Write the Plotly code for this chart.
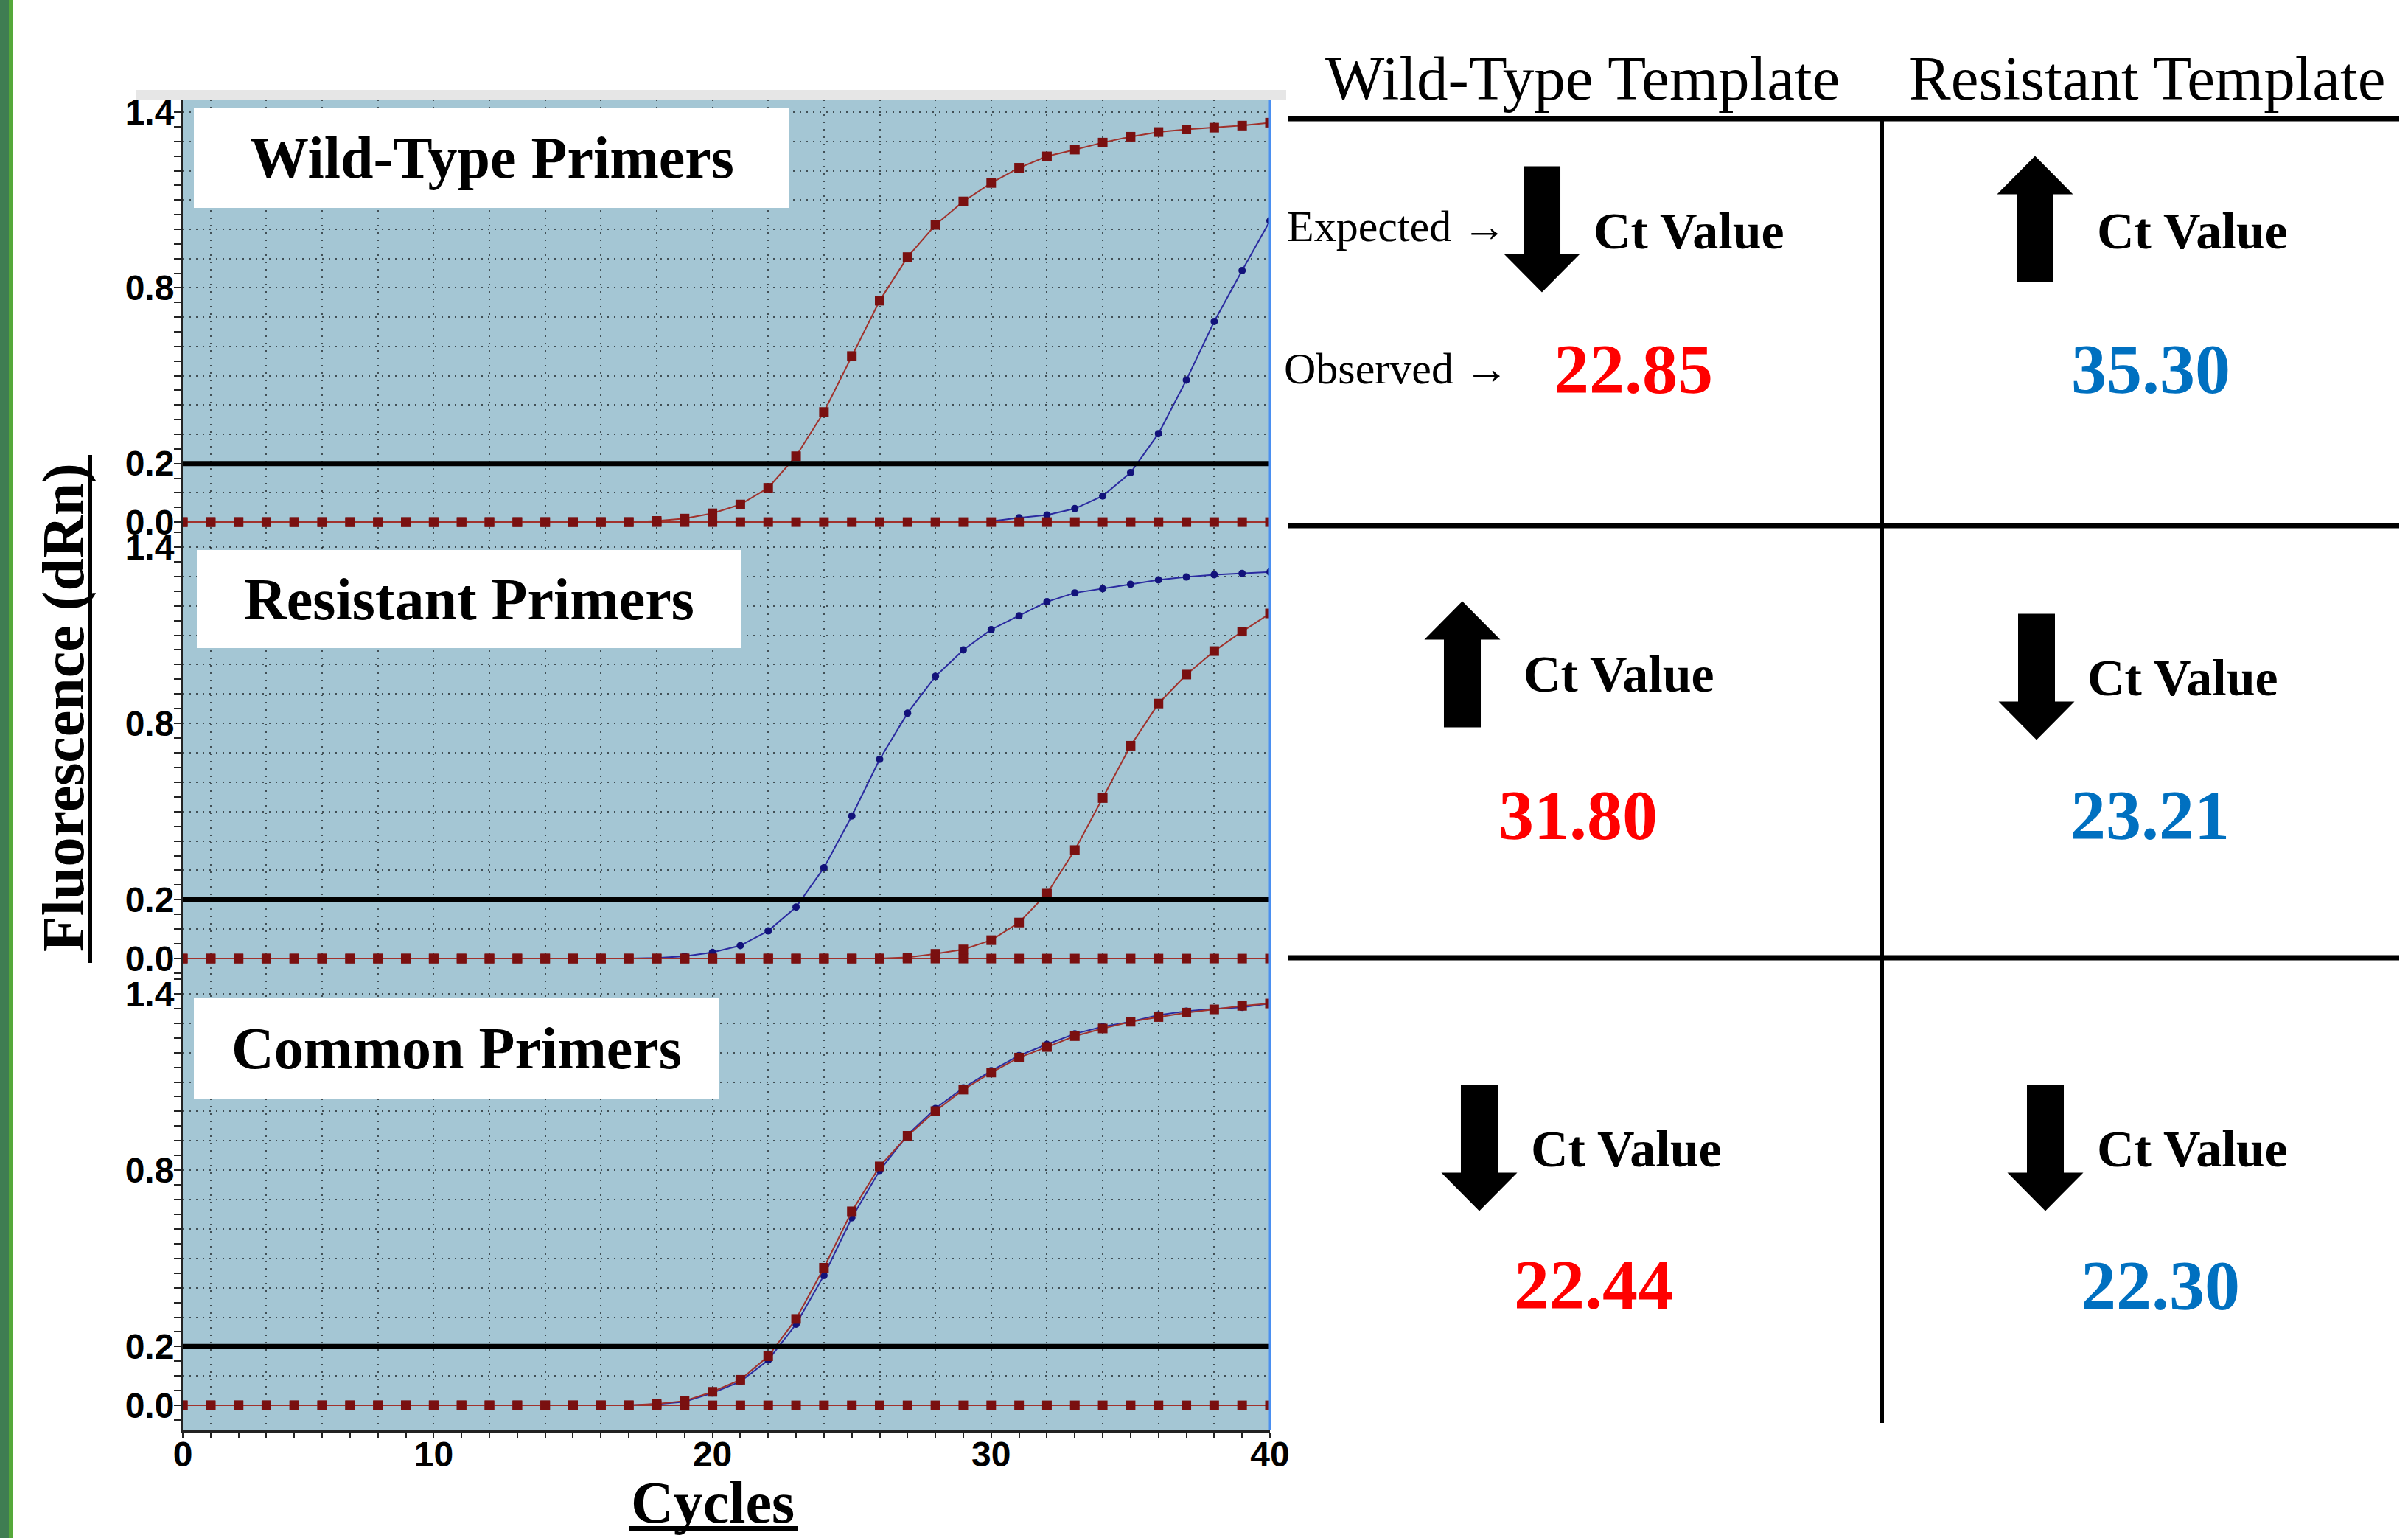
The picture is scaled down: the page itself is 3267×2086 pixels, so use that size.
import plotly.graph_objects as go

# ---------------- data ----------------
cycles = list(range(1, 41))

# Wild-Type primers panel
wt_primers_wt_template = [0, 0, 0, 0, 0, 0, 0, 0, 0, 0, 0, 0, 0, 0, 0, 0, 0,
                          0.004, 0.012, 0.030, 0.060, 0.117, 0.225, 0.376, 0.567, 0.756,
                          0.905, 1.015, 1.095, 1.158, 1.210, 1.249, 1.272, 1.296, 1.316,
                          1.332, 1.341, 1.347, 1.354, 1.364]
wt_primers_res_template = [0, 0, 0, 0, 0, 0, 0, 0, 0, 0, 0, 0, 0, 0, 0, 0, 0, 0, 0, 0,
                           0, 0, 0, 0, 0, 0, 0, 0, 0, 0.003, 0.015, 0.024, 0.046, 0.089,
                           0.169, 0.302, 0.485, 0.685, 0.859, 1.029]
# Resistant primers panel
res_primers_wt_template = [0, 0, 0, 0, 0, 0, 0, 0, 0, 0, 0, 0, 0, 0, 0, 0, 0, 0, 0, 0,
                           0, 0, 0, 0, 0, 0, 0.004, 0.016, 0.031, 0.0625, 0.1225, 0.221,
                           0.369, 0.546, 0.724, 0.8675, 0.966, 1.046, 1.1125, 1.174]
res_primers_res_template = [0, 0, 0, 0, 0, 0, 0, 0, 0, 0, 0, 0, 0, 0, 0, 0, 0,
                            0.002, 0.008, 0.021, 0.044, 0.094, 0.175, 0.309, 0.485, 0.678,
                            0.835, 0.960, 1.050, 1.119, 1.166, 1.214, 1.244, 1.258, 1.273,
                            1.288, 1.298, 1.306, 1.310, 1.315]
# Common primers panel
com_primers_wt_template = [0, 0, 0, 0, 0, 0, 0, 0, 0, 0, 0, 0, 0, 0, 0, 0, 0,
                           0.005, 0.015, 0.046, 0.087, 0.167, 0.294, 0.468, 0.660, 0.813,
                           0.917, 1.001, 1.074, 1.132, 1.183, 1.219, 1.256, 1.282, 1.305,
                           1.321, 1.336, 1.347, 1.359, 1.367]
com_primers_res_template = [0, 0, 0, 0, 0, 0, 0, 0, 0, 0, 0, 0, 0, 0, 0, 0, 0,
                            0.004, 0.012, 0.042, 0.081, 0.154, 0.276, 0.442, 0.638, 0.799,
                            0.920, 1.010, 1.080, 1.138, 1.190, 1.228, 1.264, 1.288, 1.305,
                            1.328, 1.341, 1.349, 1.354, 1.367]
# no-template control wells (flat baseline)
ntc_baseline = [0, 0, 0, 0, 0, 0, 0, 0, 0, 0, 0, 0, 0, 0, 0, 0, 0, 0, 0, 0,
                0, 0, 0, 0, 0, 0, 0, 0, 0, 0, 0, 0, 0, 0, 0, 0, 0, 0, 0, 0]

panel_titles = ["Wild-Type Primers", "Resistant Primers", "Common Primers"]
threshold = 0.2
x_tick_vals = [1, 10, 20, 30, 40]
x_tick_text = ["0", "10", "20", "30", "40"]
y_label_vals = [0.0, 0.2, 0.8, 1.4]
y_label_text = ["0.0", "0.2", "0.8", "1.4"]

template_headers = ["Wild-Type Template", "Resistant Template"]
expected_direction = [["down", "up"], ["up", "down"], ["down", "down"]]
observed_ct = [[22.85, 35.30], [31.80, 23.21], [22.44, 22.30]]
ct_colors = ["#ff0000", "#0070c0"]

# ---------------- layout helpers ----------------
W, H = 3267, 2086


def px(x):
    return x / W


def py(y):
    return 1 - y / H


SERIF = "Liberation Serif"
SANS = "Liberation Sans"
RED_M, RED_L = "#7a1010", "#a1322c"
BLUE_M, BLUE_L = "#12127a", "#2b2ba0"
GRID = "rgba(0,0,0,0.6)"

panels = [
    dict(top=135, bottom=722, yr=[-0.035, 1.443], series=(wt_primers_wt_template, wt_primers_res_template)),
    dict(top=722, bottom=1320, yr=[-0.05, 1.45], series=(res_primers_wt_template, res_primers_res_template)),
    dict(top=1320, bottom=1940, yr=[-0.085, 1.47], series=(com_primers_wt_template, com_primers_res_template)),
]
X_LEFT, X_RIGHT = 248, 1723

grid_y = [round(i * 0.1, 1) for i in range(15)]
label_y = dict(zip(y_label_vals, y_label_text))
grid_x = [1] + list(range(2, 41, 2))
label_x = dict(zip(x_tick_vals, x_tick_text))

fig = go.Figure()
shapes = []
annotations = []

for i, p in enumerate(panels):
    n = "" if i == 0 else str(i + 1)
    xa, ya = "x" + n, "y" + n
    wt, res = p["series"]
    fig.add_trace(go.Scatter(x=cycles, y=ntc_baseline, xaxis=xa, yaxis=ya, mode="lines+markers",
                             line=dict(color=BLUE_L, width=2), marker=dict(symbol="circle", size=10, color=BLUE_M),
                             showlegend=False, hoverinfo="skip"))
    fig.add_trace(go.Scatter(x=cycles, y=res, xaxis=xa, yaxis=ya, mode="lines+markers",
                             line=dict(color=BLUE_L, width=2), marker=dict(symbol="circle", size=10, color=BLUE_M),
                             showlegend=False))
    fig.add_trace(go.Scatter(x=cycles, y=ntc_baseline, xaxis=xa, yaxis=ya, mode="lines+markers",
                             line=dict(color=RED_L, width=2), marker=dict(symbol="square", size=13, color=RED_M),
                             showlegend=False, hoverinfo="skip"))
    fig.add_trace(go.Scatter(x=cycles, y=wt, xaxis=xa, yaxis=ya, mode="lines+markers",
                             line=dict(color=RED_L, width=2), marker=dict(symbol="square", size=13, color=RED_M),
                             showlegend=False))

    bottom_panel = i == len(panels) - 1
    fig.update_layout(**{
        "xaxis" + n: dict(
            domain=[px(X_LEFT), px(X_RIGHT)], range=[1, 40], anchor=ya, automargin=False,
            tickmode="array", tickvals=grid_x, ticktext=[label_x.get(v, "") for v in grid_x],
            showgrid=True, gridcolor=GRID, gridwidth=2, griddash="2px,8px",
            zeroline=False,
            showticklabels=bottom_panel, ticklabelstandoff=-20,
            ticks="outside" if bottom_panel else "", ticklen=8, tickwidth=2, tickcolor="#222",
            minor=dict(dtick=1, tick0=1, ticks="outside" if bottom_panel else "", ticklen=8,
                       tickwidth=2, tickcolor="#222", showgrid=False),
            showline=bottom_panel, linecolor="#222", linewidth=3,
            tickfont=dict(family=SANS, size=48, color="black", weight=700),
            matches=None if i == 0 else "x",
        ),
        "yaxis" + n: dict(
            domain=[py(p["bottom"]), py(p["top"])], range=p["yr"], anchor=xa, automargin=False,
            tickmode="array", tickvals=grid_y, ticktext=[label_y.get(v, "") for v in grid_y],
            showgrid=True, gridcolor=GRID, gridwidth=2, griddash="2px,7px",
            zeroline=False, ticklabelstandoff=-10,
            ticks="outside", ticklen=9, tickwidth=2, tickcolor="#222",
            minor=dict(dtick=0.05, tick0=0, ticks="outside", ticklen=9, tickwidth=2,
                       tickcolor="#222", showgrid=False),
            showline=True, linecolor="#222", linewidth=3,
            tickfont=dict(family=SANS, size=48, color="black", weight=700),
        ),
    })
    shapes.append(dict(type="line", xref=xa + " domain", yref=ya, x0=0, x1=1, y0=threshold, y1=threshold,
                       line=dict(color="black", width=7), layer="above"))
    shapes.append(dict(type="line", xref=xa + " domain", yref=ya + " domain", x0=1, x1=1, y0=0, y1=1,
                       line=dict(color="#4a8ff0", width=3), layer="above"))

# panel label boxes
boxes = [(263, 1071, 146, 282), (267, 1006, 746, 879), (263, 975, 1354, 1490)]
for (x0, x1, y0, y1), title in zip(boxes, panel_titles):
    shapes.append(dict(type="rect", xref="paper", yref="paper", x0=px(x0), x1=px(x1), y0=py(y1), y1=py(y0),
                       fillcolor="white", line=dict(width=0), layer="above"))
    annotations.append(dict(text=title, xref="paper", yref="paper", x=px((x0 + x1) / 2), y=py((y0 + y1) / 2),
                            xanchor="center", yanchor="middle", showarrow=False,
                            font=dict(family=SERIF, size=80, color="black", weight=700)))

# left green stripe and top grey band
shapes.append(dict(type="rect", xref="paper", yref="paper", x0=0, x1=px(12), y0=0, y1=1,
                   fillcolor="#3f7d52", line=dict(width=0)))
shapes.append(dict(type="rect", xref="paper", yref="paper", x0=px(12), x1=px(17), y0=0, y1=1,
                   fillcolor="#55a83a", line=dict(width=0)))
shapes.append(dict(type="rect", xref="paper", yref="paper", x0=px(185), x1=px(1745), y0=py(135), y1=py(122),
                   fillcolor="#e6e6e6", line=dict(width=0)))

# axis titles
annotations.append(dict(text="Fluorescence (dRn)", xref="paper", yref="paper", x=px(86), y=py(960),
                        xanchor="center", yanchor="middle", textangle=-90, showarrow=False,
                        font=dict(family=SERIF, size=80, color="black", weight=700)))
shapes.append(dict(type="line", xref="paper", yref="paper", x0=px(122), x1=px(122), y0=py(1306), y1=py(617),
                   line=dict(color="black", width=6)))
annotations.append(dict(text="Cycles", xref="paper", yref="paper", x=px(967), y=py(2038),
                        xanchor="center", yanchor="middle", showarrow=False,
                        font=dict(family=SERIF, size=80, color="black", weight=700)))
shapes.append(dict(type="line", xref="paper", yref="paper", x0=px(853), x1=px(1082), y0=py(2073), y1=py(2073),
                   line=dict(color="black", width=6)))

# ---------------- table ----------------
col_centers = [2147, 2913]
for hdr, cx in zip(template_headers, col_centers):
    annotations.append(dict(text=hdr, xref="paper", yref="paper", x=px(cx), y=py(106),
                            xanchor="center", yanchor="middle", showarrow=False,
                            font=dict(family=SERIF, size=85, color="black")))

for yy in [161, 713, 1299]:
    shapes.append(dict(type="line", xref="paper", yref="paper", x0=px(1747), x1=px(3255), y0=py(yy), y1=py(yy),
                       line=dict(color="black", width=7)))
shapes.append(dict(type="line", xref="paper", yref="paper", x0=px(2553), x1=px(2553), y0=py(1930), y1=py(161),
                   line=dict(color="black", width=6)))


def arrow_path(cx, cy, direction, length=171, shaft_w=50, head_w=103, head_len=52):
    top, bot = cy - length / 2, cy + length / 2
    if direction == "down":
        pts = [(cx - shaft_w / 2, top), (cx + shaft_w / 2, top), (cx + shaft_w / 2, bot - head_len),
               (cx + head_w / 2, bot - head_len), (cx, bot), (cx - head_w / 2, bot - head_len),
               (cx - shaft_w / 2, bot - head_len)]
    else:
        pts = [(cx - shaft_w / 2, bot), (cx + shaft_w / 2, bot), (cx + shaft_w / 2, top + head_len),
               (cx + head_w / 2, top + head_len), (cx, top), (cx - head_w / 2, top + head_len),
               (cx - shaft_w / 2, top + head_len)]
    return "M " + " L ".join(f"{px(x):.5f},{py(y):.5f}" for x, y in pts) + " Z"


# per-cell layout positions (arrow centre, "Ct Value" left edge/centre y, number centre)
cell_layout = [
    [dict(ax=2092, ay=311, tx=2160, ty=313, nx=2216, ny=500),
     dict(ax=2761, ay=297, tx=2843, ty=313, nx=2918, ny=500)],
    [dict(ax=1984, ay=901, tx=2065, ty=915, nx=2141, ny=1105),
     dict(ax=2763, ay=918, tx=2830, ty=919, nx=2917, ny=1105)],
    [dict(ax=2007, ay=1557, tx=2075, ty=1558, nx=2162, ny=1742),
     dict(ax=2775, ay=1557, tx=2843, ty=1558, nx=2931, ny=1743)],
]

for r in range(3):
    for c in range(2):
        L = cell_layout[r][c]
        shapes.append(dict(type="path", xref="paper", yref="paper",
                           path=arrow_path(L["ax"], L["ay"], expected_direction[r][c]),
                           fillcolor="black", line=dict(width=0)))
        annotations.append(dict(text="Ct Value", xref="paper", yref="paper", x=px(L["tx"]), y=py(L["ty"]),
                                xanchor="left", yanchor="middle", showarrow=False,
                                font=dict(family=SERIF, size=70, color="black", weight=700)))
        annotations.append(dict(text=f"{observed_ct[r][c]:.2f}", xref="paper", yref="paper",
                                x=px(L["nx"]), y=py(L["ny"]), xanchor="center", yanchor="middle",
                                showarrow=False,
                                font=dict(family=SERIF, size=96, color=ct_colors[c], weight=700)))

annotations.append(dict(text="Expected \u2192", xref="paper", yref="paper", x=px(1744), y=py(307),
                        xanchor="left", yanchor="middle", showarrow=False,
                        font=dict(family=SERIF, size=60, color="black")))
annotations.append(dict(text="Observed \u2192", xref="paper", yref="paper", x=px(1740), y=py(500),
                        xanchor="left", yanchor="middle", showarrow=False,
                        font=dict(family=SERIF, size=60, color="black")))

fig.update_layout(
    width=W, height=H, autosize=False,
    margin=dict(l=0, r=0, t=0, b=0, pad=0, autoexpand=False),
    paper_bgcolor="white", plot_bgcolor="#a4c6d4",
    shapes=shapes, annotations=annotations,
    showlegend=False,
)

fig.write_html("out.html", config={"displayModeBar": False},
               post_script="document.body.style.margin='0';document.body.style.overflow='hidden';")
